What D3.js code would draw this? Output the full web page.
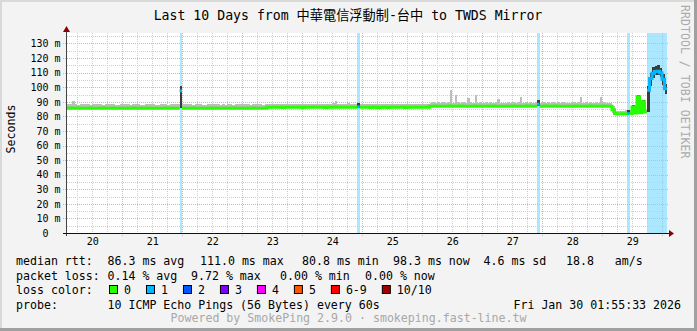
<!DOCTYPE html>
<html>
<head>
<meta charset="utf-8">
<script src="https://cdn.jsdelivr.net/npm/d3@7/dist/d3.min.js"></script>
<style>
  body { margin: 0; background: #f3f3f3; }
  svg { display: block; }
  text { font-family: "DejaVu Sans Mono", "Noto Sans CJK TC", monospace; white-space: pre; }
</style>
</head>
<body>
<svg id="chart" width="697" height="331"></svg>
<script>
// textos
const title = "Last 10 Days from 中華電信浮動制-台中 to TWDS Mirror";
const yLabel = "Seconds";
const sideText = "RRDTOOL / TOBI OETIKER";
const footer = "Powered by SmokePing 2.9.0 · smokeping.fast-line.tw";
const endTime = new Date(2026, 0, 30, 1, 55, 33);
const startTime = new Date(2026, 0, 20, 1, 55, 33);

// mediana (ms), una fila = 24 horas
const medianByDay = [
  [85.6,85.7,85.6,85.6,85.7,85.6,85.5,85.6,85.6,85.7,85.6,85.6,85.5,85.6,85.7,85.6,85.6,85.6,85.7,85.6,85.5,85.6,85.6,85.6],
  [85.6,85.6,85.7,85.6,85.6,85.5,85.6,85.6,85.7,85.6,85.6,85.6,85.5,85.6,85.6,85.7,85.6,85.6,85.6,85.6,85.6,97.5,85.7,85.6],
  [85.6,85.6,85.7,85.6,85.6,85.6,85.5,85.6,85.6,85.6,85.7,85.6,85.6,85.6,85.6,85.5,85.6,85.6,85.7,85.6,85.6,85.6,85.6,85.6],
  [85.6,85.6,85.7,85.6,85.6,85.6,85.6,85.6,86.2,86.2,86.3,86.2,86.2,86.2,86.1,86.2,86.2,86.3,86.2,86.2,86.2,86.2,86.1,86.2],
  [86.2,86.2,86.3,86.2,86.2,86.2,86.2,86.1,86.2,86.2,86.3,86.4,86.2,86.2,86.2,86.2,86.3,86.2,86.2,86.2,86.6,86.2,86.2,86.2],
  [86.2,86.1,86.2,86.2,86.0,86.1,86.2,86.2,86.1,86.2,86.2,86.2,86.3,86.2,86.2,86.1,86.2,86.2,86.2,86.2,86.3,86.2,86.2,86.2],
  [86.2,87.0,87.0,87.1,87.0,87.0,87.0,86.9,87.0,87.1,87.0,87.0,87.0,87.1,87.0,87.0,86.9,87.0,87.0,87.1,87.0,87.0,87.0,87.0],
  [87.0,87.0,87.1,87.0,87.0,87.0,86.9,87.0,87.0,87.0,87.1,87.0,87.0,87.0,87.0,87.0,87.1,87.0,87.0,87.0,88.4,87.0,87.0,87.1],
  [87.0,87.0,87.0,87.1,87.0,87.0,87.0,87.0,86.9,87.0,87.0,87.1,87.0,87.0,87.0,87.0,87.0,87.1,87.0,87.0,87.0,87.0,87.1,87.0],
  [87.0,87.0,84.5,82.0,81.7,81.6,81.8,81.8,81.9,82.0,86.5,82.3,93.5,82.5,90.0,83.0,98.0,106.0,109.6,110.8,111.0,110.0,105.5,99.0]
];

// humo por encima / por debajo de la mediana (ms)
const smokeUpByDay = [
  [2.6,2.8,5.0,2.6,2.4,2.6,2.8,3.0,2.6,2.4,2.6,2.8,3.0,2.6,2.4,2.6,2.8,2.6,2.6,2.4,2.6,2.8,2.6,2.6],
  [2.6,2.4,2.6,2.8,2.6,2.6,2.4,2.6,2.8,2.6,2.6,2.4,2.6,2.6,2.8,2.6,2.4,2.6,2.6,2.8,2.6,3.5,2.6,2.6],
  [2.6,2.6,2.4,2.6,2.8,2.6,2.6,2.4,2.6,2.6,2.8,2.6,2.6,2.4,2.6,2.6,2.8,2.6,2.4,2.6,2.6,2.8,2.6,2.6],
  [2.6,2.4,2.6,2.6,2.8,2.6,2.4,2.6,2.4,2.6,2.4,2.4,2.6,2.4,2.4,2.6,2.4,2.4,2.6,2.4,2.4,2.6,2.4,2.4],
  [2.4,2.6,2.4,2.4,2.6,2.4,2.4,2.6,2.4,2.4,2.6,4.0,2.4,2.6,2.4,2.4,2.6,2.4,2.4,2.6,2.4,2.4,2.6,2.4],
  [2.4,2.6,2.4,2.4,2.6,2.4,2.4,2.6,2.4,2.4,2.6,2.4,2.4,2.6,2.4,2.4,2.6,2.4,2.4,2.6,2.4,2.4,2.6,2.4],
  [2.4,2.4,2.6,2.4,3.2,2.4,2.6,2.4,3.0,11.0,2.4,7.5,2.6,2.4,3.0,2.4,5.5,2.6,2.4,7.5,2.4,3.0,2.4,2.6],
  [2.4,2.6,2.4,3.0,5.0,2.4,2.6,2.4,3.0,2.4,2.6,2.4,3.0,6.5,2.4,2.6,2.4,3.0,2.4,2.6,3.0,2.4,3.0,2.4],
  [2.6,2.4,3.0,2.4,2.6,2.4,3.0,2.4,2.6,2.4,3.0,2.4,2.6,6.0,2.4,3.0,2.4,2.6,2.4,3.0,2.4,6.0,2.6,2.4],
  [2.4,2.4,2.4,2.0,2.0,2.0,2.0,2.5,2.5,2.5,1.0,2.5,1.0,2.0,1.0,2.0,3.0,3.5,4.0,4.0,4.0,3.5,3.5,3.0]
];
const smokeDownByDay = [
  [0.6,0.6,0.6,0.6,0.6,0.6,0.6,0.6,0.6,0.6,0.6,0.6,0.6,0.6,0.6,0.6,0.6,0.6,0.6,0.6,0.6,0.6,0.6,0.6],
  [0.6,0.6,0.6,0.6,0.6,0.6,0.6,0.6,0.6,0.6,0.6,0.6,0.6,0.6,0.6,0.6,0.6,0.6,0.6,0.6,0.6,11.9,0.6,0.6],
  [0.6,0.6,0.6,0.6,0.6,0.6,0.6,0.6,0.6,0.6,0.6,0.6,0.6,0.6,0.6,0.6,0.6,0.6,0.6,0.6,0.6,0.6,0.6,0.6],
  [0.6,0.6,0.6,0.6,0.6,0.6,0.6,0.6,0.6,0.6,0.6,0.6,0.6,0.6,0.6,0.6,0.6,0.6,0.6,0.6,0.6,0.6,0.6,0.6],
  [0.6,0.6,0.6,0.6,0.6,0.6,0.6,0.6,0.6,0.6,0.6,0.6,0.6,0.6,0.6,0.6,0.6,0.6,0.6,0.6,1.0,0.6,0.6,0.6],
  [0.6,0.6,0.6,0.6,0.6,0.6,0.6,0.6,0.6,0.6,0.6,0.6,0.6,0.6,0.6,0.6,0.6,0.6,0.6,0.6,0.6,0.6,0.6,0.6],
  [0.6,0.6,0.6,0.6,0.6,0.6,0.6,0.6,0.6,0.6,0.6,0.6,0.6,0.6,0.6,0.6,0.6,0.6,0.6,0.6,0.6,0.6,0.6,0.6],
  [0.6,0.6,0.6,0.6,0.6,0.6,0.6,0.6,0.6,0.6,0.6,0.6,0.6,0.6,0.6,0.6,0.6,0.6,0.6,0.6,1.4,0.6,0.6,0.6],
  [0.6,0.6,0.6,0.6,0.6,0.6,0.6,0.6,0.6,0.6,0.6,0.6,0.6,0.6,0.6,0.6,0.6,0.6,0.6,0.6,0.6,0.6,0.6,0.6],
  [0.6,0.6,2.5,0.6,0.6,0.6,0.6,0.6,0.6,0.6,4.5,0.6,11.5,0.6,7.0,0.6,15.0,5.0,3.0,2.5,2.5,3.0,4.0,3.5]
];

// pérdidas: [fila del día, hora, pings perdidos]
const lossEvents = [
  [1,21,1],[4,20,1],[7,20,1],[9,8,1],
  [9,16,1],[9,17,1],[9,18,1],[9,19,1],[9,20,1],[9,21,1],[9,22,1],[9,23,1]
];

// leyenda
const lossLabels = ["0","1","2","3","4","5","6-9","10/10"];
const lossColors = ["#26ff00","#00b8ff","#0059ff","#7e00ff","#ff00ff","#ff5500","#ff0000","#a00000"];
const rttStats = ["86.3 ms avg","111.0 ms max","80.8 ms min","98.3 ms now","4.6 ms sd","18.8   am/s"];
const lossStats = ["0.14 % avg","9.72 % max","0.00 % min","0.00 % now"];
const probeText = "10 ICMP Echo Pings (56 Bytes) every 60s";
const dateText = "Fri Jan 30 01:55:33 2026";

// posiciones
const W = 697, H = 331;
const plotL = 67, plotR = 667, plotT = 33, plotB = 233;
const rttX = [107.5, 200, 302, 393, 483.5, 566];
const lossX = [107.5, 191, 280, 365];
const charW = 6.98;

const svg = d3.select("#chart");

// marco
svg.append("rect").attr("width", W).attr("height", H).attr("fill", "#f3f3f3");
svg.append("rect").attr("x", 0).attr("y", 0).attr("width", W).attr("height", 2).attr("fill", "#d9d9d9");
svg.append("rect").attr("x", 0).attr("y", 0).attr("width", 2).attr("height", H).attr("fill", "#d9d9d9");
svg.append("rect").attr("x", W - 3).attr("y", 0).attr("width", 3).attr("height", H).attr("fill", "#a0a0a0");
svg.append("rect").attr("x", 0).attr("y", H - 3).attr("width", W).attr("height", 3).attr("fill", "#a0a0a0");

svg.append("rect").attr("x", plotL).attr("y", plotT).attr("width", plotR - plotL).attr("height", plotB - plotT).attr("fill", "#fff");

const x = d3.scaleTime().domain([startTime, endTime]).range([plotL, plotR]);
const y = d3.scaleLinear().domain([0, 137.2]).range([plotB, plotT]);

// puntos horarios
const points = [];
medianByDay.forEach((row, d) => {
  row.forEach((v, h) => {
    const t = d3.timeHour.offset(startTime, d * 24 + h);
    points.push({ t: t, t1: d3.timeHour.offset(t, 1), v: v,
      up: smokeUpByDay[d][h], down: smokeDownByDay[d][h], loss: 0 });
  });
});
lossEvents.forEach(([d, h, n]) => { points[d * 24 + h].loss = n; });

function lossIndex(n) {
  if (n <= 5) return n;
  if (n < 10) return 6;
  return 7;
}

// barras de pérdida
svg.append("g").selectAll("rect")
  .data(points.filter(p => p.loss > 0))
  .enter().append("rect")
  .attr("x", p => x(p.t))
  .attr("width", p => x(p.t1) - x(p.t))
  .attr("y", plotT).attr("height", plotB - plotT)
  .attr("fill", p => lossColors[lossIndex(p.loss)])
  .attr("opacity", 0.33)
  .attr("shape-rendering", "crispEdges");

// rejilla
const grid = svg.append("g").attr("shape-rendering", "crispEdges");
const minorY = d3.range(5, 137, 10);
const majorY = d3.range(10, 137, 10);
const dayLines = d3.timeDay.range(startTime, endTime);
const sixHours = d3.timeHour.every(6).range(startTime, endTime).filter(t => t.getHours() !== 0);

grid.selectAll(".minor-y").data(minorY).enter().append("line")
  .attr("x1", plotL).attr("x2", plotR)
  .attr("y1", v => Math.round(y(v)) + 0.5).attr("y2", v => Math.round(y(v)) + 0.5)
  .attr("stroke", "#cfcfcf").attr("stroke-dasharray", "1,1");
grid.selectAll(".minor-x").data(sixHours).enter().append("line")
  .attr("x1", t => Math.round(x(t)) + 0.5).attr("x2", t => Math.round(x(t)) + 0.5)
  .attr("y1", plotT).attr("y2", plotB)
  .attr("stroke", "#cfcfcf").attr("stroke-dasharray", "1,1");
grid.selectAll(".major-y").data(majorY).enter().append("line")
  .attr("x1", plotL - 4).attr("x2", plotR + 2)
  .attr("y1", v => Math.round(y(v)) + 0.5).attr("y2", v => Math.round(y(v)) + 0.5)
  .attr("stroke", "#f2a8a8").attr("stroke-dasharray", "1,1");
grid.selectAll(".major-x").data(dayLines).enter().append("line")
  .attr("x1", t => Math.round(x(t)) + 0.5).attr("x2", t => Math.round(x(t)) + 0.5)
  .attr("y1", plotT).attr("y2", plotB + 3)
  .attr("stroke", "#f2a8a8").attr("stroke-dasharray", "1,1");

// humo
svg.append("g").attr("shape-rendering", "crispEdges").selectAll("rect")
  .data(points).enter().append("rect")
  .attr("x", p => x(p.t))
  .attr("width", p => x(p.t1) - x(p.t))
  .attr("y", p => y(p.v + p.up))
  .attr("height", p => y(p.v - p.down) - y(p.v + p.up))
  .attr("fill", p => (p.loss > 0 || p.down > 3) ? "#3c3c3c" : "#bdbdbd");

// mediana, un trazo por tramo con el mismo color de pérdida
const runs = [];
points.forEach(p => {
  const c = lossIndex(p.loss);
  const last = runs[runs.length - 1];
  if (last && last.c === c) last.pts.push(p);
  else runs.push({ c: c, pts: [p] });
});
const medLine = d3.line().x(d => x(d[0])).y(d => y(d[1])).curve(d3.curveStepAfter);
svg.append("g").selectAll("path")
  .data(runs).enter().append("path")
  .attr("d", r => {
    const pts = r.pts.map(p => [p.t, p.v]);
    const lastP = r.pts[r.pts.length - 1];
    pts.push([lastP.t1, lastP.v]);
    return medLine(pts);
  })
  .attr("fill", "none")
  .attr("stroke", r => lossColors[r.c])
  .attr("stroke-width", 3);

// ejes
const yAxis = svg.append("g").attr("transform", `translate(${plotL - 0.5},0)`)
  .call(d3.axisLeft(y).tickValues(d3.range(0, 131, 10)).tickSize(0).tickPadding(6)
    .tickFormat(v => v === 0 ? "0  " : v + " m"));
yAxis.select(".domain").remove();
yAxis.selectAll("text").attr("font-size", "10px").attr("fill", "#000")
  .style("font-family", "'DejaVu Sans Mono', monospace");

const noons = d3.timeDay.range(d3.timeDay.floor(startTime), endTime)
  .map(t => d3.timeHour.offset(t, 12)).filter(t => t > startTime && t < endTime);
const xAxis = svg.append("g").attr("transform", `translate(0,${plotB})`)
  .call(d3.axisBottom(x).tickValues(noons).tickSize(0).tickPadding(5)
    .tickFormat(d3.timeFormat("%d")));
xAxis.select(".domain").remove();
xAxis.selectAll("text").attr("font-size", "10px").attr("fill", "#000")
  .style("font-family", "'DejaVu Sans Mono', monospace");

svg.append("line").attr("x1", plotL - 0.5).attr("x2", plotL - 0.5).attr("y1", plotB + 3).attr("y2", plotT - 3)
  .attr("stroke", "#444");
svg.append("line").attr("x1", plotL - 4).attr("x2", plotR + 4).attr("y1", plotB + 0.5).attr("y2", plotB + 0.5)
  .attr("stroke", "#111");
svg.append("path").attr("d", `M${plotL - 4},${plotT - 1}L${plotL + 3},${plotT - 1}L${plotL - 0.5},${plotT - 7}Z`).attr("fill", "#8b0000");
svg.append("path").attr("d", `M${plotR + 2},${plotB - 3}L${plotR + 2},${plotB + 4}L${plotR + 7},${plotB + 0.5}Z`).attr("fill", "#8b0000");

// textos
svg.append("text").attr("x", 348).attr("y", 19.5).attr("text-anchor", "middle")
  .attr("font-size", "13.2px").attr("fill", "#000").text(title);
svg.append("text").attr("transform", "translate(15,129) rotate(-90)").attr("text-anchor", "middle")
  .attr("font-size", "11.6px").attr("fill", "#000").text(yLabel);
svg.append("text").attr("transform", "translate(681,5) rotate(90)")
  .attr("font-size", "11.6px").attr("fill", "#ababab").text(sideText);

const legend = svg.append("g").attr("font-size", "11.6px").attr("fill", "#000");
const rowY = [265, 279.5, 294, 308.5];

legend.append("text").attr("x", 16).attr("y", rowY[0]).text("median rtt:");
rttStats.forEach((s, i) => legend.append("text").attr("x", rttX[i]).attr("y", rowY[0]).text(s));

legend.append("text").attr("x", 16).attr("y", rowY[1]).text("packet loss:");
lossStats.forEach((s, i) => legend.append("text").attr("x", lossX[i]).attr("y", rowY[1]).text(s));

legend.append("text").attr("x", 16).attr("y", rowY[2]).text("loss color:");
let sx = 109;
lossLabels.forEach((lab, i) => {
  legend.append("rect").attr("x", sx + 0.5).attr("y", rowY[2] - 8.5).attr("width", 8).attr("height", 8)
    .attr("fill", lossColors[i]).attr("stroke", "#000");
  legend.append("text").attr("x", sx + 15).attr("y", rowY[2]).text(lab);
  sx = sx + 15 + lab.length * charW + 15;
});

legend.append("text").attr("x", 16).attr("y", rowY[3]).text("probe:");
legend.append("text").attr("x", 107.5).attr("y", rowY[3]).text(probeText);
legend.append("text").attr("x", 681).attr("y", rowY[3]).attr("text-anchor", "end").text(dateText);

svg.append("text").attr("x", 348.5).attr("y", 322).attr("text-anchor", "middle")
  .attr("font-size", "11.6px").attr("fill", "#a8a8a8").text(footer);
</script>
</body>
</html>
